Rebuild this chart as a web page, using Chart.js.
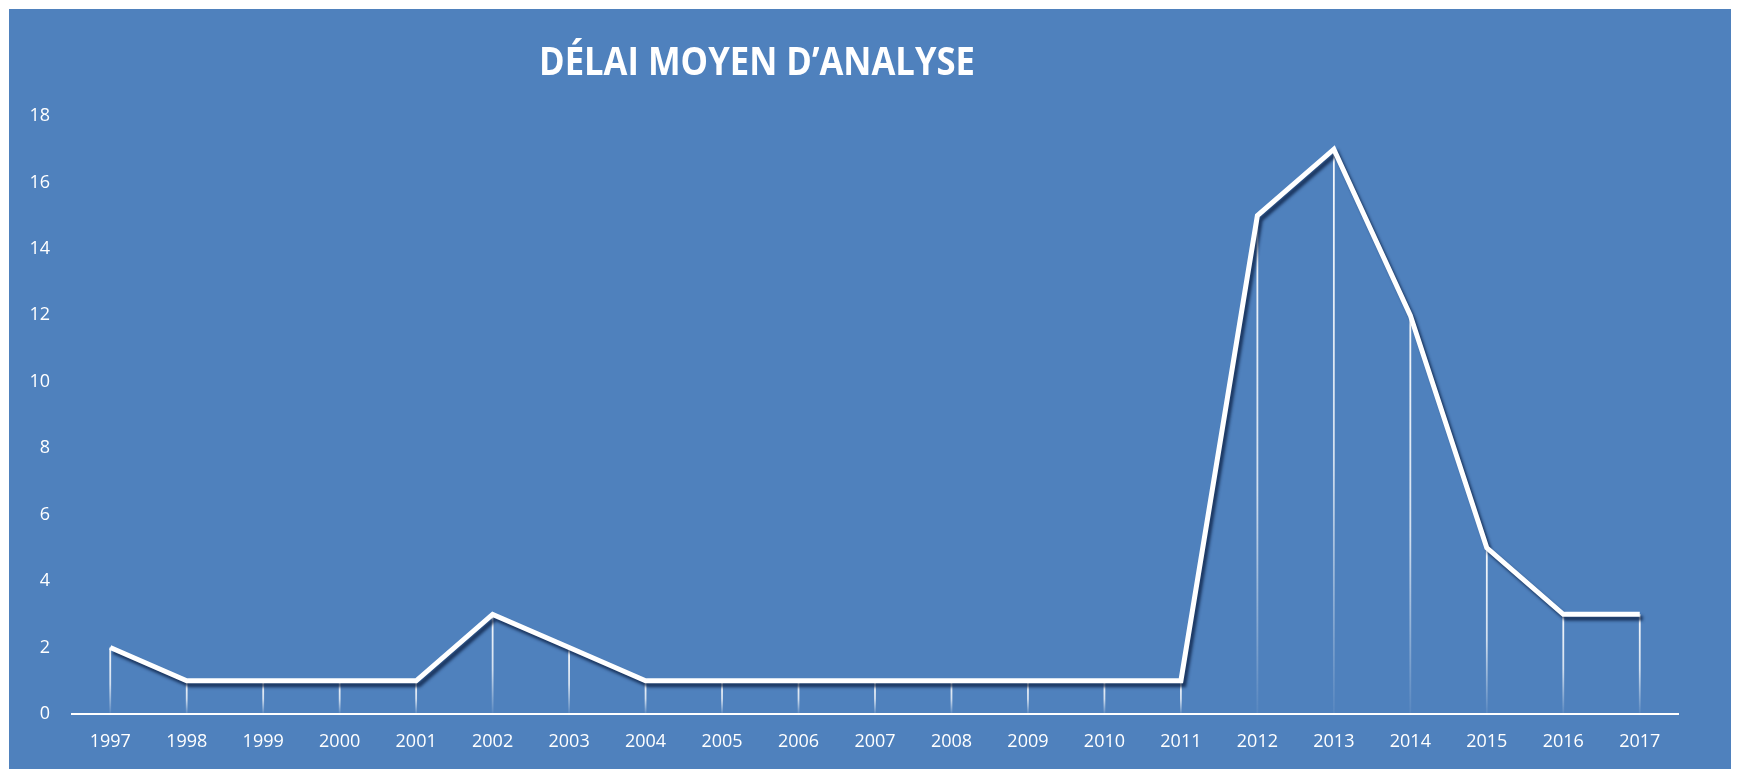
<!DOCTYPE html>
<html>
<head>
<meta charset="utf-8">
<script src="https://cdn.jsdelivr.net/npm/chart.js@4.4.0/dist/chart.umd.min.js"></script>
<style>
html,body{margin:0;padding:0;background:#ffffff;}
#wrap{position:absolute;left:9px;top:9px;width:1722px;height:760px;background:#4F81BD;overflow:hidden;}
#title{position:absolute;left:530px;top:31px;color:#ffffff;font-family:'Open Sans',sans-serif;font-weight:bold;font-size:40px;line-height:40px;white-space:nowrap;transform-origin:0 0;}
canvas{position:absolute;left:0;top:0;}
</style>
</head>
<body>
<div id="wrap">
  <canvas id="c" width="1722" height="760"></canvas>
  <div id="title"></div>
</div>
<script>
const chartTitle = "DÉLAI MOYEN D’ANALYSE";
const categories = ['1997','1998','1999','2000','2001','2002','2003','2004','2005','2006','2007','2008','2009','2010','2011','2012','2013','2014','2015','2016','2017'];
const delaiMoyen = [2,1,1,1,1,3,2,1,1,1,1,1,1,1,1,15,17,12,5,3,3];
const yMax = 18;
const yStep = 2;

const titleEl = document.getElementById('title');
titleEl.textContent = chartTitle;
const targetW = 436;
const w = titleEl.getBoundingClientRect().width;
if (w > 0) titleEl.style.transform = 'scaleX(' + (targetW / w) + ')';

const dropLines = {
  id: 'dropLines',
  beforeDatasetsDraw(chart) {
    const meta = chart.getDatasetMeta(0);
    const ctx = chart.ctx;
    const yBase = chart.scales.y.getPixelForValue(0);
    ctx.save();
    ctx.lineWidth = 1.8;
    meta.data.forEach(pt => {
      const g = ctx.createLinearGradient(0, pt.y, 0, yBase);
      g.addColorStop(0, 'rgba(255,255,255,0.95)');
      g.addColorStop(0.55, 'rgba(255,255,255,0.75)');
      g.addColorStop(1, 'rgba(255,255,255,0.05)');
      ctx.strokeStyle = g;
      ctx.beginPath();
      ctx.moveTo(pt.x, pt.y);
      ctx.lineTo(pt.x, yBase);
      ctx.stroke();
    });
    ctx.restore();
  }
};

const lineShadow = {
  id: 'lineShadow',
  beforeDatasetDraw(chart) {
    const ctx = chart.ctx;
    ctx.save();
    ctx.shadowColor = 'rgba(10,30,65,0.75)';
    ctx.shadowOffsetX = 3;
    ctx.shadowOffsetY = 4;
    ctx.shadowBlur = 3;
  },
  afterDatasetDraw(chart) {
    chart.ctx.restore();
  }
};

new Chart(document.getElementById('c'), {
  type: 'line',
  data: {
    labels: categories,
    datasets: [{
      data: delaiMoyen,
      borderColor: '#ffffff',
      borderWidth: 5,
      borderJoinStyle: 'miter',
      pointRadius: 0,
      tension: 0,
      fill: false,
      clip: false
    }]
  },
  options: {
    responsive: false,
    animation: false,
    devicePixelRatio: 1,
    layout: { padding: { left: 0, right: 53, top: 107, bottom: 0 } },
    plugins: { legend: { display: false }, title: { display: false }, tooltip: { enabled: false } },
    scales: {
      x: {
        offset: true,
        grid: { display: false, drawTicks: false },
        border: { display: true, color: '#ffffff', width: 2 },
        ticks: { color: '#ffffff', font: { family: 'Open Sans', size: 18 }, padding: 17, maxRotation: 0, autoSkip: false },
        afterFit(s) { s.height = 55; }
      },
      y: {
        min: 0,
        max: yMax,
        grid: { display: false, drawTicks: false },
        border: { display: false },
        ticks: { stepSize: yStep, color: '#ffffff', font: { family: 'Open Sans', size: 18 }, padding: 22 },
        afterFit(s) { s.width = 63; }
      }
    }
  },
  plugins: [dropLines, lineShadow]
});
</script>
</body>
</html>
